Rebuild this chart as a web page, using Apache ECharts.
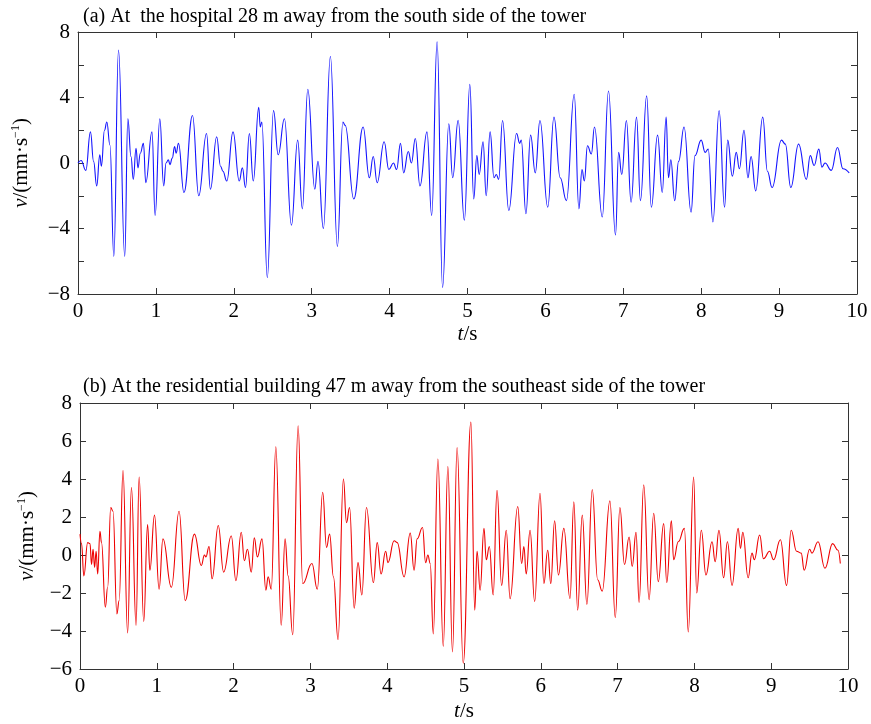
<!DOCTYPE html>
<html>
<head>
<meta charset="utf-8">
<script src="https://cdn.jsdelivr.net/npm/echarts@6/dist/echarts.min.js"></script>
<style>
html,body{margin:0;padding:0;background:#fff;}
#chart{width:871px;height:724px;}
</style>
</head>
<body>
<div id="chart"></div>
<script>
// ---- Data ----
const titleA = '(a) At  the hospital 28 m away from the south side of the tower';
const titleB = '(b) At the residential building 47 m away from the southeast side of the tower';

// Panel (a): time (s) and velocity (mm/s) at turning points
const tA = [0,0.04,0.10,0.16,0.20,0.24,0.28,0.30,0.34,0.37,0.41,0.46,0.52,0.60,0.64,0.68,0.71,0.745,0.77,0.80,0.84,0.87,0.95,0.99,1.05,1.10,1.13,1.16,1.18,1.21,1.24,1.26,1.29,1.36,1.47,1.55,1.65,1.70,1.78,1.83,1.86,1.91,1.99,2.07,2.11,2.15,2.20,2.25,2.32,2.34,2.36,2.43,2.51,2.57,2.65,2.74,2.82,2.88,2.95,3.04,3.08,3.15,3.24,3.33,3.40,3.43,3.54,3.66,3.74,3.79,3.84,3.93,3.99,4.05,4.09,4.14,4.18,4.24,4.28,4.33,4.39,4.48,4.54,4.61,4.68,4.76,4.81,4.88,4.96,5.03,5.08,5.12,5.15,5.20,5.24,5.29,5.34,5.37,5.40,5.45,5.53,5.63,5.67,5.69,5.75,5.81,5.87,5.93,6.03,6.11,6.19,6.27,6.37,6.43,6.47,6.50,6.54,6.59,6.63,6.73,6.81,6.90,6.94,6.98,7.04,7.10,7.17,7.22,7.30,7.36,7.44,7.50,7.55,7.58,7.61,7.66,7.71,7.78,7.87,7.92,8.00,8.05,8.09,8.15,8.23,8.30,8.34,8.40,8.45,8.49,8.55,8.60,8.64,8.70,8.79,8.85,8.91,9.03,9.08,9.15,9.25,9.35,9.40,9.45,9.51,9.55,9.59,9.67,9.75,9.82,9.90];
const vA = [0,0.15,-0.45,1.9,0.1,-1.4,0.5,-0.2,2.0,2.5,1.1,-5.7,6.9,-5.7,2.7,0.4,-1.0,0.9,-0.3,0.6,1.2,-1.2,1.9,-3.2,2.7,-1.4,0.0,0.2,-0.1,0.3,1.0,0.6,1.2,-1.8,2.9,-2.0,1.8,-1.6,1.6,-0.2,-0.5,-1.1,1.9,-1.1,-0.3,-1.5,1.8,-1.1,3.4,2.2,2.5,-7.0,3.2,0.5,2.7,-3.8,1.4,-2.8,4.5,-1.6,0.1,-4.0,6.5,-5.1,2.5,2.3,-2.2,2.2,-0.9,0.4,-1.2,1.3,-0.4,0.0,-0.4,1.2,-0.6,0.7,0.0,1.5,-1.4,1.9,-3.2,7.4,-7.6,2.4,-0.9,2.6,-3.5,4.8,-2.2,0.45,-0.7,1.3,-2.0,1.9,-0.9,-0.7,-1.0,2.6,-2.9,1.8,1.2,1.4,-3.1,1.7,-0.6,2.6,-2.7,2.8,-0.9,-2.3,4.2,-2.8,-0.4,-1.1,1.05,0.55,2.2,-3.3,4.4,-4.4,0.65,-0.7,2.6,-2.4,2.8,-2.3,4.1,-2.7,1.7,-1.8,2.8,-0.9,0.2,-2.3,0.1,2.2,-3.0,0.45,1.4,0.65,0.85,-3.6,3.2,-2.7,1.4,-0.8,0.65,-0.35,2.0,-0.9,0.4,-1.7,2.8,-0.5,-1.5,1.4,1.15,-1.5,1.15,-1.0,0.45,-0.15,0.85,-0.25,0.0,-0.45,0.95,-0.35,-0.6];

// Panel (b): time (s) and velocity (mm/s) at turning points
const tB = [0,0.02,0.05,0.10,0.13,0.15,0.17,0.19,0.21,0.23,0.26,0.28,0.33,0.36,0.40,0.43,0.48,0.51,0.56,0.62,0.67,0.73,0.77,0.83,0.88,0.91,0.97,1.03,1.08,1.19,1.29,1.37,1.49,1.58,1.62,1.64,1.68,1.72,1.80,1.87,1.97,2.03,2.10,2.14,2.18,2.23,2.27,2.31,2.37,2.42,2.45,2.49,2.55,2.62,2.67,2.71,2.77,2.84,2.90,3.02,3.09,3.16,3.21,3.25,3.30,3.36,3.43,3.47,3.51,3.57,3.62,3.67,3.73,3.82,3.87,3.92,3.98,4.01,4.09,4.13,4.22,4.30,4.35,4.39,4.46,4.50,4.53,4.56,4.60,4.66,4.73,4.79,4.85,4.91,4.99,5.09,5.14,5.17,5.21,5.26,5.29,5.33,5.38,5.43,5.49,5.55,5.60,5.70,5.75,5.78,5.81,5.86,5.92,5.99,6.04,6.09,6.13,6.18,6.23,6.30,6.38,6.43,6.48,6.54,6.60,6.67,6.74,6.80,6.90,6.97,7.03,7.09,7.15,7.19,7.24,7.28,7.34,7.41,7.47,7.53,7.60,7.64,7.70,7.73,7.79,7.87,7.92,7.99,8.03,8.09,8.15,8.23,8.27,8.32,8.38,8.43,8.49,8.57,8.60,8.63,8.70,8.75,8.78,8.85,8.90,8.98,9.03,9.12,9.20,9.26,9.33,9.39,9.43,9.50,9.53,9.61,9.70,9.80,9.87,9.90];
const vB = [1.1,0.6,-1.1,0.65,0.6,-0.5,0.3,-0.65,0.2,-1.0,1.25,0.65,-2.75,-1.7,2.5,2.3,-3.1,-2.4,4.45,-4.1,3.55,-3.7,4.1,-3.5,1.6,-0.8,2.1,-1.8,0.85,-1.7,2.3,-2.4,1.1,-0.55,0.0,-0.1,0.45,-1.25,1.55,-0.9,1.0,-1.35,1.2,-0.3,0.3,-0.9,0.9,-0.1,0.85,-1.85,-1.15,-1.8,5.7,-3.7,0.85,-1.1,-4.2,6.8,-1.5,-0.45,-1.8,3.3,0.4,1.1,-1.15,-4.45,4.0,1.7,2.5,-2.8,-0.4,-2.1,2.5,-1.45,0.65,-1.0,0.2,-0.4,0.75,0.65,-1.15,1.15,-0.8,0.85,1.45,-0.4,0.0,-0.45,-4.15,5.05,-4.8,4.65,-5.1,5.65,-5.7,7.0,-2.9,0.2,-1.85,1.4,-0.25,0.45,-2.1,3.4,-1.6,1.3,-2.3,2.55,-0.45,0.45,-1.0,1.3,-2.45,3.25,-1.5,0.25,-1.5,1.8,-1.05,1.4,-2.3,2.8,-2.9,2.1,-2.6,3.45,-1.3,-1.9,2.85,-3.3,2.5,-0.5,0.95,-0.6,1.2,-2.5,3.7,-2.35,2.2,-1.4,1.65,-1.45,1.8,-0.25,0.7,1.4,-4.05,4.1,-2.0,1.3,-1.05,0.7,-0.35,1.3,-1.2,0.7,-1.6,1.4,0.35,1.2,-1.2,0.1,-0.25,1.05,-0.2,0.2,-0.25,0.8,-1.6,1.3,0.2,0.1,-0.8,0.3,0.1,0.7,-0.7,0.6,0.25,-0.45];

// Axis ranges / ticks
const xRange = [0, 10, 1];
const yRangeA = [-8, 8, 2];
const yLabelStepA = 4;
const yRangeB = [-6, 8, 2];
const yLabelStepB = 2;

// ---- Chart ----
const FONT = "'Liberation Serif','Times New Roman',serif";
const fmtNum = v => String(v).replace('-', '\u2212');
const axisLineStyle = { onZero: false, lineStyle: { color: '#333', width: 1 } };
const tickIn = { inside: true, length: 6, lineStyle: { color: '#333', width: 1 } };
const labelStyle = { fontFamily: FONT, fontSize: 21, color: '#000' };

function xAxes(gridIndex, nameGap) {
  return [
    { type: 'value', gridIndex, position: 'bottom', min: xRange[0], max: xRange[1], interval: xRange[2],
      axisLine: axisLineStyle, axisTick: tickIn, splitLine: { show: false },
      axisLabel: Object.assign({ margin: 7, formatter: fmtNum }, labelStyle),
      name: '{it|t}/s', nameLocation: 'middle', nameGap,
      nameTextStyle: { fontFamily: FONT, fontSize: 21, color: '#000',
        rich: { it: { fontFamily: FONT, fontSize: 21, fontStyle: 'italic', color: '#000' } } } },
    { type: 'value', gridIndex, position: 'top', min: xRange[0], max: xRange[1], interval: xRange[2],
      axisLine: axisLineStyle, axisTick: tickIn, splitLine: { show: false }, axisLabel: { show: false } }
  ];
}
function yAxes(gridIndex, range, step, nameGap) {
  return [
    { type: 'value', gridIndex, position: 'left', min: range[0], max: range[1], interval: range[2],
      axisLine: axisLineStyle, axisTick: tickIn, splitLine: { show: false },
      axisLabel: Object.assign({ margin: 8, formatter: v => (Math.round(v) % step === 0 ? fmtNum(v) : '') }, labelStyle),
      name: '{it|v}/(mm\u00b7s{sup|\u22121})', nameLocation: 'middle', nameGap,
      nameTextStyle: { fontFamily: FONT, fontSize: 21, color: '#000',
        rich: {
          it: { fontFamily: FONT, fontSize: 21, fontStyle: 'italic', color: '#000' },
          sup: { fontFamily: FONT, fontSize: 12, color: '#000', verticalAlign: 'top', padding: [0, 0, 10, 0] }
        } } },
    { type: 'value', gridIndex, position: 'right', min: range[0], max: range[1], interval: range[2],
      axisLine: axisLineStyle, axisTick: tickIn, splitLine: { show: false }, axisLabel: { show: false } }
  ];
}

const chart = echarts.init(document.getElementById('chart'), null, { renderer: 'canvas' });
chart.setOption({
  backgroundColor: '#fff',
  animation: false,
  title: [
    { text: titleA, left: 78, top: 2, textStyle: { fontFamily: FONT, fontSize: 20, fontWeight: 'normal', color: '#000' } },
    { text: titleB, left: 78, top: 372, textStyle: { fontFamily: FONT, fontSize: 20, fontWeight: 'normal', color: '#000' } }
  ],
  grid: [
    { left: 78, right: 14, top: 32, height: 262 },
    { left: 80, right: 23, top: 403, height: 266 }
  ],
  xAxis: [...xAxes(0, 30), ...xAxes(1, 32)],
  yAxis: [...yAxes(0, yRangeA, yLabelStepA, 46), ...yAxes(1, yRangeB, yLabelStepB, 42)],
  series: [
    { type: 'line', xAxisIndex: 0, yAxisIndex: 0, showSymbol: false, smooth: 0.45, smoothMonotone: 'x',
      data: tA.map((t, i) => [t, vA[i]]),
      lineStyle: { color: '#1414ff', width: 1.1 } },
    { type: 'line', xAxisIndex: 2, yAxisIndex: 2, showSymbol: false, smooth: 0.45, smoothMonotone: 'x',
      data: tB.map((t, i) => [t, vB[i]]),
      lineStyle: { color: '#ee0000', width: 1.1 } }
  ]
});
</script>
</body>
</html>
